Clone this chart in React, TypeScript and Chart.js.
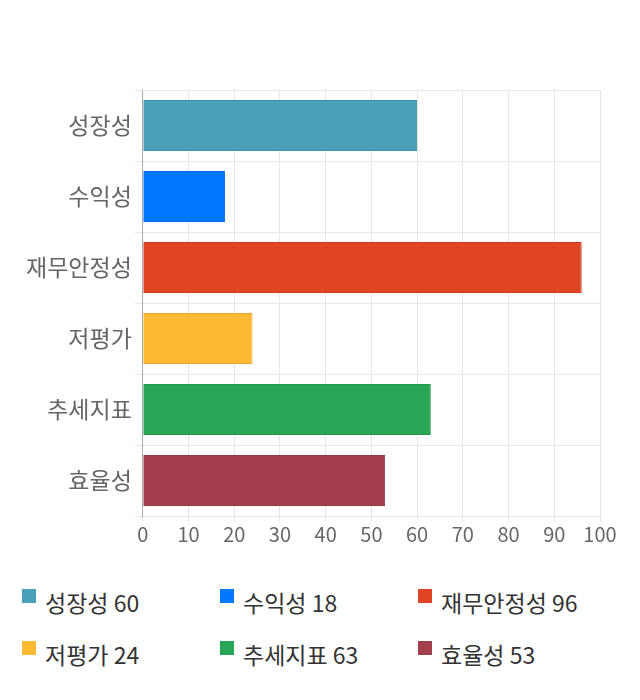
import { useEffect, useRef } from 'react';
import { Chart, registerables } from 'chart.js';

Chart.register(...registerables);

const categories = ['성장성', '수익성', '재무안정성', '저평가', '추세지표', '효율성'];
const scores = [60, 18, 96, 24, 63, 53];
const barColors = ['#4aa0b8', '#0077ff', '#e14424', '#fdb933', '#28a557', '#a4404e'];
const borderColors = ['#3f8fa6', '#006ae6', '#cc3b1e', '#e8a82c', '#23944d', '#933846'];

const FONT = '"Noto Sans CJK KR", "Noto Sans", sans-serif';

export default function App() {
  const canvasRef = useRef<HTMLCanvasElement>(null);

  useEffect(() => {
    document.body.style.margin = '0';
    if (!canvasRef.current) return;
    const chart = new Chart(canvasRef.current, {
      type: 'bar',
      data: {
        labels: categories,
        datasets: [{
          data: scores,
          backgroundColor: barColors,
          borderColor: borderColors,
          borderWidth: 1,
        }],
      },
      options: {
        indexAxis: 'y',
        animation: false,
        responsive: true,
        maintainAspectRatio: false,
        layout: { padding: { top: 90, right: 40, left: 23, bottom: 0 } },
        scales: {
          x: {
            min: 0,
            max: 100,
            ticks: { stepSize: 10, color: '#666', font: { family: FONT, size: 20 }, padding: 0 },
            grid: { color: '#e6e6e6', tickLength: 6 },
            border: { color: '#e6e6e6' },
          },
          y: {
            ticks: { color: '#666', font: { family: FONT, size: 23 }, padding: 3 },
            grid: { color: '#e9e9e9', offset: true },
            border: { color: '#aaa' },
          },
        },
        plugins: {
          legend: { display: false },
          tooltip: { enabled: false },
        },
      },
    });
    return () => { chart.destroy(); };
  }, []);

  return (
    <div style={{ width: 640, fontFamily: FONT }}>
      <div style={{ position: 'relative', height: 546 }}>
        <canvas ref={canvasRef} />
      </div>
      <div style={{ display: 'flex', flexWrap: 'wrap', paddingLeft: 22, marginTop: 41 }}>
        {categories.map((c, i) => (
          <div key={c} style={{ width: 198, height: 52, display: 'flex', alignItems: 'flex-start' }}>
            <span style={{ display: 'inline-block', width: 14, height: 14, background: barColors[i], marginTop: 2, marginRight: 9 }} />
            <span style={{ fontSize: 23, color: '#333', lineHeight: '30px' }}>{c} {scores[i]}</span>
          </div>
        ))}
      </div>
    </div>
  );
}
